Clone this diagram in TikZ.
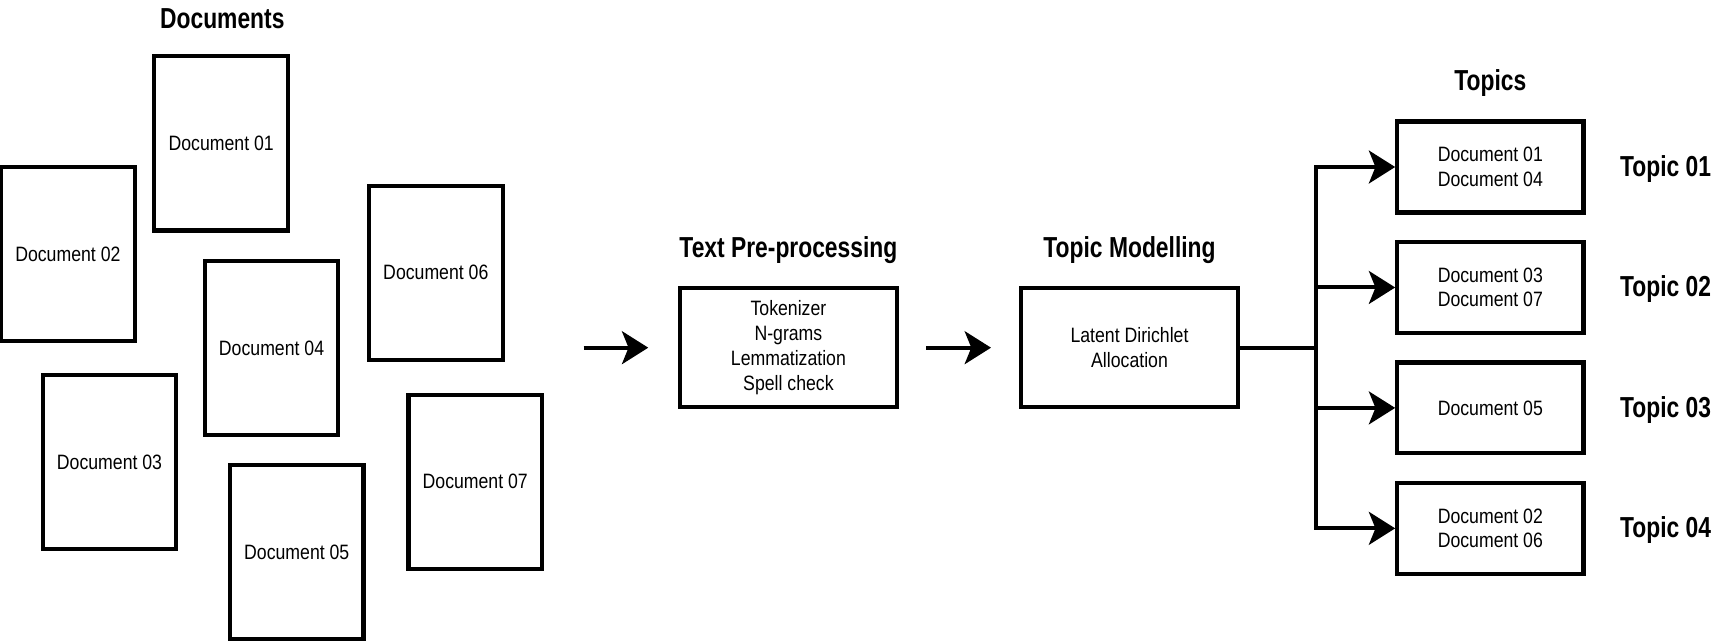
\documentclass[tikz,border=0pt]{standalone}
\usepackage{fontspec}
\setmainfont{Liberation Sans}[FakeStretch=0.85, BoldFeatures={FakeStretch=0.79}]
\usetikzlibrary{arrows.meta,calc}
\newcommand{\lab}{\fontsize{9.5}{11.3}\selectfont}
\newcommand{\ttl}{\fontsize{13.2}{15}\selectfont\bfseries}
\begin{document}
\begin{tikzpicture}[x=0.5pt,y=-0.5pt,
  docbox/.style={draw, line width=1.9pt, minimum width=61pt, minimum height=79.5pt, inner sep=0pt, font=\lab},
  procbox/.style={draw, line width=1.9pt, minimum width=99pt, minimum height=54.5pt, inner sep=0pt, align=center, font=\lab},
  topicbox/.style={draw, line width=1.9pt, minimum width=85pt, minimum height=41.5pt, inner sep=0pt, align=center, font=\lab},
  ttlnode/.style={font=\ttl, inner sep=0pt},
  conn/.style={line width=1.8pt},
  arr/.style={line width=1.8pt, -{Stealth[length=12pt,width=15pt,inset=3pt]}}]
\useasboundingbox (0,0) rectangle (1568,586);
% documents
\node[ttlnode] (tdocs) at (203,17) {Documents};
\node[docbox] (d1) at (202,131) {Document 01};
\node[docbox] (d2) at (62,232) {Document 02};
\node[docbox] (d4) at (248,318) {Document 04};
\node[docbox] (d6) at (398,249) {Document 06};
\node[docbox] (d3) at (100,422) {Document 03};
\node[docbox] (d5) at (271,504) {Document 05};
\node[docbox] (d7) at (434,440) {Document 07};
% processing
\node[ttlnode] (ttp) at (720,228) {Text Pre-processing};
\node[procbox] (tp) at (720,317.5) {Tokenizer\\N-grams\\Lemmatization\\Spell check};
\node[ttlnode] (ttm) at (1031.5,228) {Topic Modelling};
\node[procbox] (tm) at (1031.5,317.5) {Latent Dirichlet\\Allocation};
\coordinate (a1s) at (533,317.5);
\coordinate (a1e) at (592,317.5);
\coordinate (a2s) at (846,317.5);
\coordinate (a2e) at (905,317.5);
\draw[arr] (a1s) -- (a1e);
\draw[arr] (a2s) -- (a2e);
% topics
\node[ttlnode] (ttop) at (1361,76) {Topics};
\node[topicbox] (t1) at (1361,152.5) {Document 01\\Document 04};
\node[topicbox] (t2) at (1361,262.5) {Document 03\\Document 07};
\node[topicbox] (t3) at (1361,372.5) {Document 05};
\node[topicbox] (t4) at (1361,482.5) {Document 02\\Document 06};
\node[ttlnode] (l1) at (1521,154) {Topic 01};
\node[ttlnode] (l2) at (1521,264) {Topic 02};
\node[ttlnode] (l3) at (1521,374) {Topic 03};
\node[ttlnode] (l4) at (1521,484) {Topic 04};
\coordinate (br) at (1202,317.5);
\coordinate (bt) at (br |- t1.west);
\coordinate (bb) at (br |- t4.west);
\draw[conn] (tm.east) -- (br);
\draw[conn, line cap=rect] (bt) -- (bb);
\draw[arr] (bt) -- (t1.west);
\draw[arr] (br |- t2.west) -- (t2.west);
\draw[arr] (br |- t3.west) -- (t3.west);
\draw[arr] (bb) -- (t4.west);
\end{tikzpicture}
\end{document}
